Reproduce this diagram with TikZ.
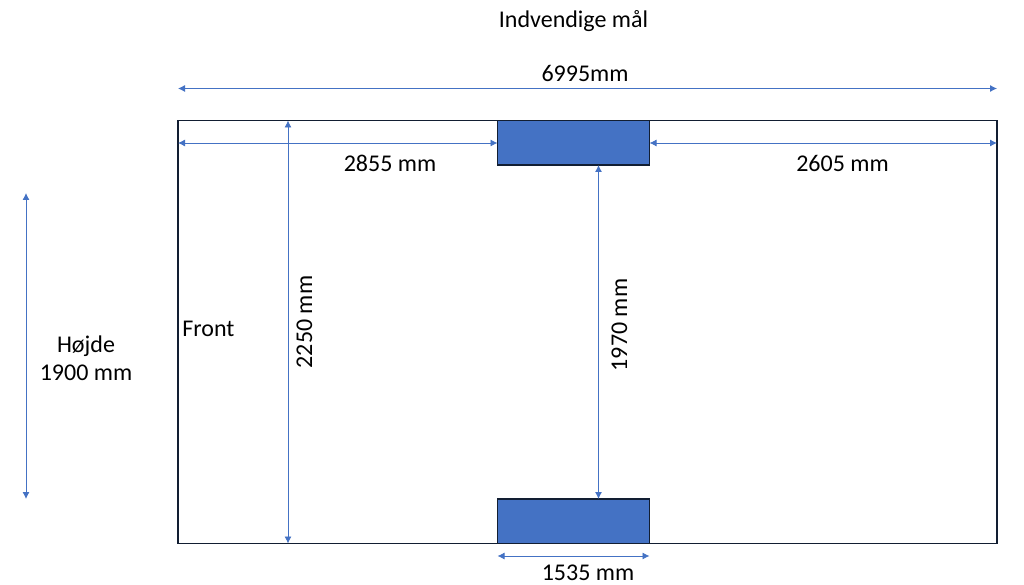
\documentclass[tikz,border=0pt]{standalone}
\usepackage{fontspec}
\setmainfont{Carlito}
\usetikzlibrary{arrows.meta}
\definecolor{dimblue}{RGB}{68,114,196}
\definecolor{frameblack}{RGB}{18,30,50}
\tikzset{
  x=1pt,y=-1pt,
  dimline/.style={draw=dimblue,line width=0.9pt,{Latex[length=7pt,width=7pt]}-{Latex[length=7pt,width=7pt]}},
  label/.style={inner sep=0pt,font=\fontsize{24}{28}\selectfont,text=black},
  block/.style={draw=frameblack,fill=dimblue,line width=1.3pt,minimum width=152pt,minimum height=44.5pt,inner sep=0pt,outer sep=0pt,anchor=north west},
}
\begin{document}
\begin{tikzpicture}
\useasboundingbox (0,0) rectangle (1024,585);
\fill[white] (0,0) rectangle (1024,585);
\node[draw=frameblack,line width=1.5pt,minimum width=819pt,minimum height=423pt,inner sep=0pt,outer sep=0pt,anchor=north west] (room) at (178,120.5) {};
\node[block] (top) at (497.5,120.5) {};
\node[block] (bot) at (497.5,499) {};
\coordinate (wa) at (178,88.5); \coordinate (wb) at (997,88.5);
\draw[dimline] (wa) -- (wb);
\coordinate (l1) at (178,143); \coordinate (r1) at (497.5,143);
\draw[dimline] (l1) -- (r1);
\coordinate (l2) at (649.5,143); \coordinate (r2) at (997,143);
\draw[dimline] (l2) -- (r2);
\coordinate (h1) at (288,120.5); \coordinate (h2) at (288,543.5);
\draw[dimline] (h1) -- (h2);
\coordinate (g1) at (598.5,165); \coordinate (g2) at (598.5,499);
\draw[dimline] (g1) -- (g2);
\coordinate (b1) at (497.5,556); \coordinate (b2) at (649.5,556);
\draw[dimline] (b1) -- (b2);
\coordinate (v1) at (26,193); \coordinate (v2) at (26,499);
\draw[dimline] (v1) -- (v2);
\node[label] (t0) at (573.5,21) {Indvendige mål};
\node[label] (t1) at (585,73.5) {6995mm};
\node[label] (t2) at (390,163.5) {2855 mm};
\node[label] (t3) at (842.5,163.5) {2605 mm};
\node[label,rotate=90] (t4) at (304.5,322) {2250 mm};
\node[label,rotate=90] (t5) at (619.5,325) {1970 mm};
\node[label] (t6) at (208.5,328.5) {Front};
\node[label,align=center] (t7) at (86,358) {Højde\\1900 mm};
\node[label] (t8) at (588,573) {1535 mm};
\end{tikzpicture}
\end{document}
